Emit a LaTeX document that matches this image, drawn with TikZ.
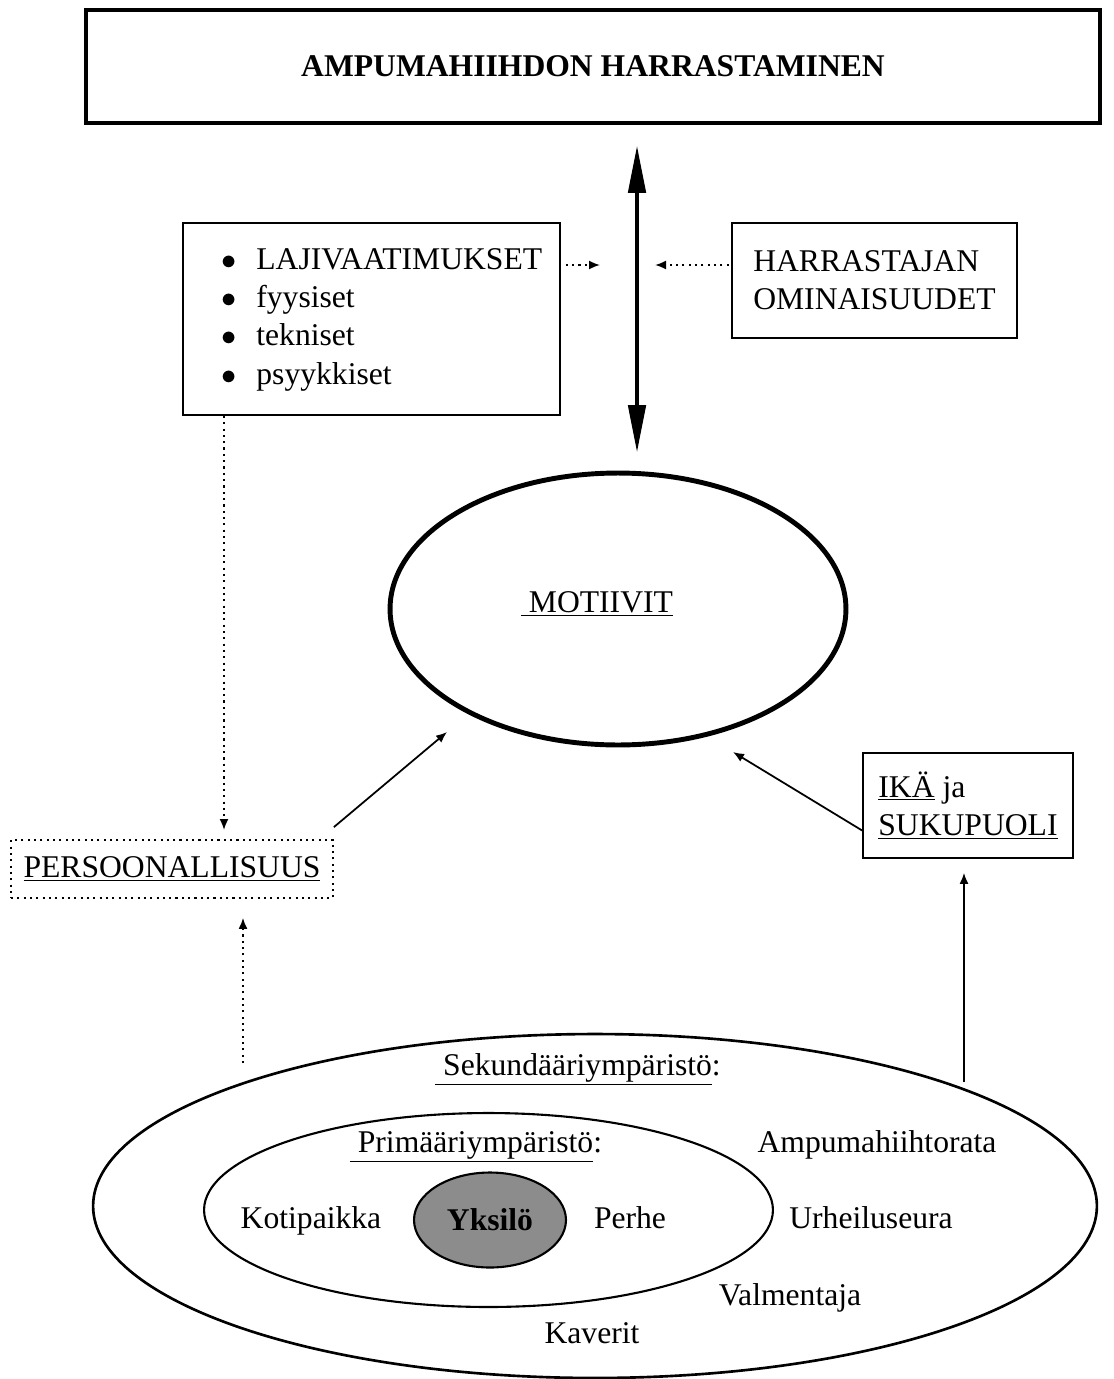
\documentclass[tikz,border=0pt]{standalone}
\usepackage{fontspec}
\setmainfont{Liberation Serif}
\usetikzlibrary{arrows.meta,shapes.geometric}

\tikzset{
  laatikko/.style={draw,rectangle,line width=1pt},
  pisteet/.style={line width=1pt,dash pattern=on 1.2pt off 2.4pt},
  teksti/.style={anchor=base,inner sep=0pt},
  kehä/.style={draw,ellipse,inner sep=2pt},
}

\begin{document}
\begin{tikzpicture}[x=0.02cm,y=-0.02cm,line width=1pt,>={Latex[length=2.2mm,width=1.8mm]},
  font=\fontsize{18}{21.8}\selectfont]
  \useasboundingbox (0,0) rectangle (1113,1379);
  % otsikko
  \node[draw,line width=2.3pt,minimum width=20.28cm,minimum height=2.26cm,
        font=\bfseries\fontsize{18}{20}\selectfont] (otsikko) at (593,66.5) {AMPUMAHIIHDON HARRASTAMINEN};
  % lajivaatimukset ja harrastajan ominaisuudet
  \node[laatikko,minimum width=7.54cm,minimum height=3.84cm] (laji) at (371.5,319)
    {\begin{tabular}{@{\hspace{12pt}}c@{\hspace{11pt}}l@{}}
      $\bullet$ & LAJIVAATIMUKSET\\
      $\bullet$ & fyysiset\\
      $\bullet$ & tekniset\\
      $\bullet$ & psyykkiset
    \end{tabular}};
  \node[laatikko,minimum width=5.7cm,minimum height=2.3cm,align=left] (harr) at (874.5,280.5) {HARRASTAJAN\\OMINAISUUDET};
  \coordinate (nuoliyla) at (637,145);
  \coordinate (nuoliala) at (637,453);
  \draw[{Triangle[length=9.6mm,width=3.4mm]}-{Triangle[length=9.6mm,width=3.4mm]},line width=2.8pt] (nuoliyla) -- (nuoliala);
  \coordinate (lajinuoli) at (600,265);
  \coordinate (harrnuoli) at (655,265);
  \draw[pisteet,->,shorten <=0.1cm] (laji.east |- lajinuoli) -- (lajinuoli);
  \draw[pisteet,->,shorten <=0.05cm] (harr.west |- harrnuoli) -- (harrnuoli);
  % motiivit
  \node[kehä,line width=2.8pt,minimum width=9.12cm,minimum height=5.44cm] (motiivit) at (618,609) {};
  \node[teksti] (motiivitteksti) at (597,612) {\underline{\ MOTIIVIT}};
  % persoonallisuus
  \node[pisteet,draw,minimum width=6.44cm,minimum height=1.16cm] (pers) at (172,869) {\underline{PERSOONALLISUUS}};
  \coordinate (persnuoli) at (224,830);
  \draw[pisteet,->] (laji.south -| persnuoli) -- (persnuoli);
  \coordinate (motvasen) at (447,732);
  \draw[->] ([yshift=0.24cm]pers.north east) -- (motvasen);
  % ika ja sukupuoli
  \node[laatikko,minimum width=4.2cm,minimum height=2.1cm,align=left] (ika) at (968,805.5) {\underline{IKÄ} ja\\\underline{SUKUPUOLI}};
  \coordinate (motoikea) at (733,752);
  \draw[->] ([yshift=-0.5cm]ika.west) -- (motoikea);
  % ympäristöt
  \node[kehä,line width=1.5pt,minimum width=20.08cm,minimum height=6.88cm] (sekund) at (595,1206) {};
  \node[kehä,line width=1.2pt,minimum width=11.38cm,minimum height=3.88cm] (primaar) at (488.5,1210) {};
  \node[kehä,line width=1.2pt,fill=black!45,minimum width=3.04cm,minimum height=1.9cm,
        font=\bfseries\fontsize{18}{21.8}\selectfont] (yksilo) at (490,1220) {Yksilö};
  \coordinate (ulkooikea) at (964,1082);
  \draw[->,shorten >=0.28cm] (ulkooikea) -- (ulkooikea |- ika.south);
  \coordinate (ulkovasen) at (243,1063);
  \draw[pisteet,->,shorten >=0.38cm] (ulkovasen) -- (ulkovasen |- pers.south);
  \node[teksti] (sektxt) at (578,1075) {\underline{\ Sekundääriympäristö}:};
  \node[teksti] (primtxt) at (476,1152) {\underline{\ Primääriympäristö}:};
  \node[teksti] (rata) at (877,1152) {Ampumahiihtorata};
  \node[teksti] (koti) at (311,1228) {Kotipaikka};
  \node[teksti] (perhe) at (630,1228) {Perhe};
  \node[teksti] (seura) at (871,1228) {Urheiluseura};
  \node[teksti] (valm) at (790,1305) {Valmentaja};
  \node[teksti] (kaverit) at (592,1343) {Kaverit};
\end{tikzpicture}
\end{document}
